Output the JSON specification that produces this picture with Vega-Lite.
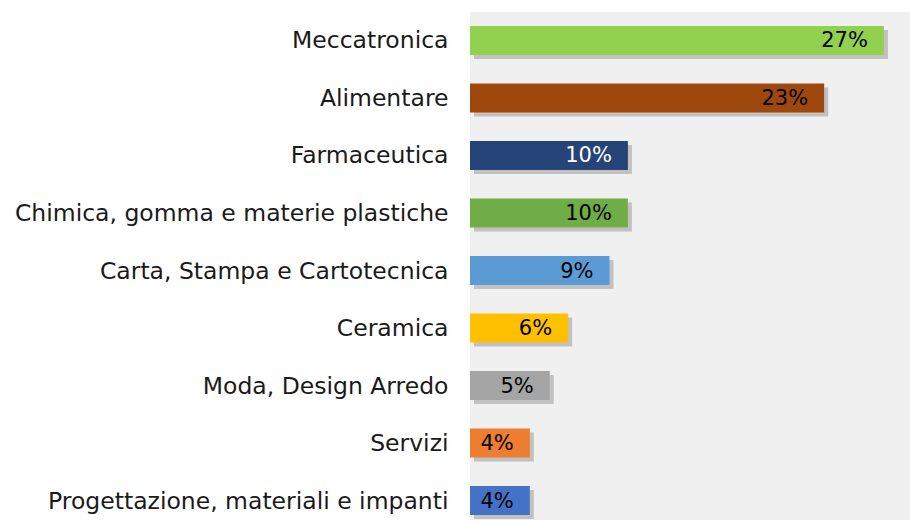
{
  "$schema": "https://vega.github.io/schema/vega-lite/v6.json",
  "width": 440,
  "height": 517,
  "autosize": {"type": "none"},
  "padding": {"left": 470, "top": 12, "right": 0, "bottom": 0},
  "background": "white",
  "view": {"fill": "#F0F0F0", "stroke": null},
  "data": {
    "values": [
      {"settore": "Meccatronica", "quota": 0.270, "colore": "#92D050", "testo": "black"},
      {"settore": "Alimentare", "quota": 0.231, "colore": "#9E480E", "testo": "black"},
      {"settore": "Farmaceutica", "quota": 0.103, "colore": "#264478", "testo": "white"},
      {"settore": "Chimica, gomma e materie plastiche", "quota": 0.103, "colore": "#70AD47", "testo": "black"},
      {"settore": "Carta, Stampa e Cartotecnica", "quota": 0.091, "colore": "#5B9BD5", "testo": "black"},
      {"settore": "Ceramica", "quota": 0.064, "colore": "#FFC000", "testo": "black"},
      {"settore": "Moda, Design Arredo", "quota": 0.052, "colore": "#A5A5A5", "testo": "black"},
      {"settore": "Servizi", "quota": 0.039, "colore": "#ED7D31", "testo": "black"},
      {"settore": "Progettazione, materiali e impanti", "quota": 0.039, "colore": "#4472C4", "testo": "black"}
    ]
  },
  "encoding": {
    "y": {
      "field": "settore",
      "type": "nominal",
      "sort": null,
      "scale": {"paddingInner": 0.496, "paddingOuter": 0.243},
      "axis": {
        "title": null,
        "domain": false,
        "ticks": false,
        "labelPadding": 22,
        "labelFont": "DejaVu Sans",
        "labelFontSize": 23.5,
        "labelColor": "#1a1a1a",
        "labelLimit": 500,
        "labelOffset": 1
      }
    },
    "x": {
      "field": "quota",
      "type": "quantitative",
      "scale": {"domain": [0, 0.287], "nice": false},
      "axis": null
    }
  },
  "layer": [
    {
      "mark": {"type": "bar", "color": "#7a7a7a", "opacity": 0.4, "xOffset": 4, "yOffset": 4}
    },
    {
      "mark": {"type": "bar"},
      "encoding": {
        "color": {"field": "colore", "type": "nominal", "scale": null, "legend": null}
      }
    },
    {
      "mark": {"type": "text", "align": "right", "baseline": "middle", "dx": -16, "dy": 1, "font": "DejaVu Sans", "fontSize": 21},
      "encoding": {
        "text": {"field": "quota", "type": "quantitative", "format": ".0%"},
        "color": {"field": "testo", "type": "nominal", "scale": null, "legend": null}
      }
    }
  ]
}
